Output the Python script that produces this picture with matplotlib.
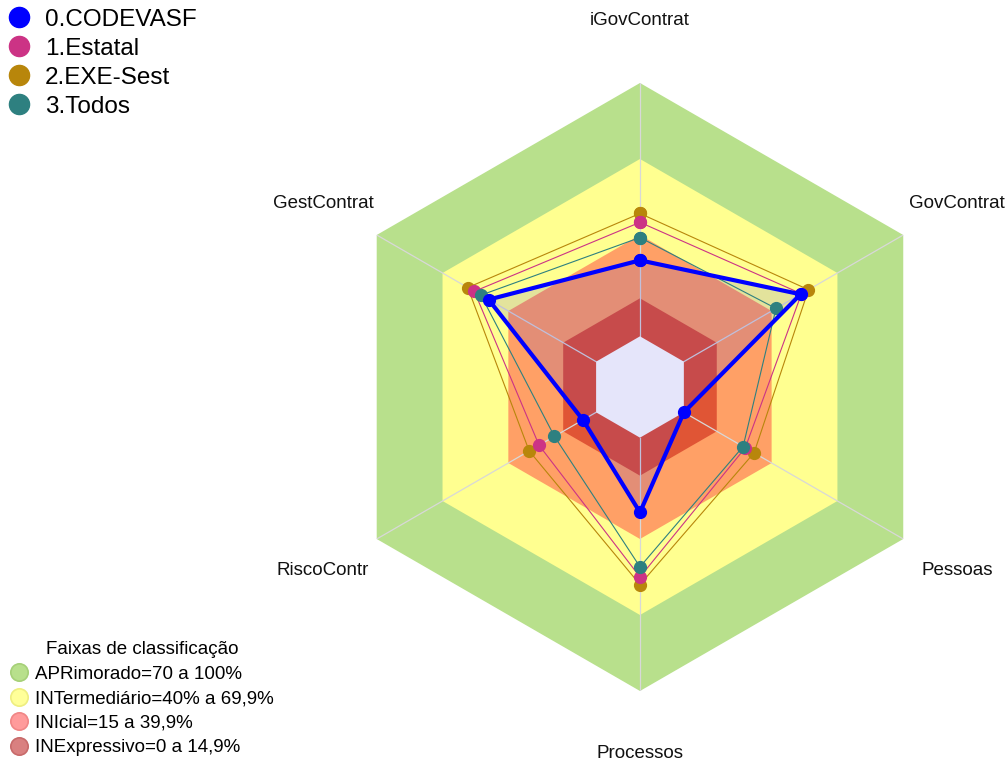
import numpy as np
import matplotlib
matplotlib.use("Agg")
import matplotlib.pyplot as plt
from matplotlib.lines import Line2D

plt.rcParams["font.family"] = ["Liberation Sans", "DejaVu Sans"]

# eixos do radar (sentido horario a partir do topo)
categorias = ["iGovContrat", "GovContrat", "Pessoas", "Processos", "RiscoContr", "GestContrat"]

codevasf = [30, 53.2, 0, 29.5, 6, 49]
estatal = [45, 53.6, 28, 55, 26, 55.5]
exe_sest = [48.5, 56.8, 32, 58, 30.5, 58.5]
todos = [39, 42, 27, 51, 19, 52.5]

series_nomes = ["0.CODEVASF", "1.Estatal", "2.EXE-Sest", "3.Todos"]

# faixas de classificacao (limite superior de cada faixa)
faixas_lim = [100, 70, 40, 15]
faixas_nomes = ["APRimorado=70 a 100%", "INTermediário=40% a 69,9%",
                "INIcial=15 a 39,9%", "INExpressivo=0 a 14,9%"]

cores_series = ["#0000FF", "#CC3385", "#B8860B", "#2E8080"]
cores_faixas = ["#B8E08C", "#FFFF90", "#FFA066", "#E05535"]
cores_leg_faixas = ["#B8E08C", "#FFFF99", "#FF9B9B", "#D98080"]
bordas_leg_faixas = ["#A6D078", "#EEEE80", "#F08686", "#C86A6A"]

n = len(categorias)
theta = np.deg2rad(np.arange(n) * 360 / n)
theta_c = np.append(theta, theta[0])


def fechar(v):
    return list(v) + [v[0]]


fig = plt.figure(figsize=(10.08, 7.6), dpi=100)
ax = fig.add_axes([0.3333, 0.0908, 0.6032, 0.8], projection="polar")
ax.set_theta_zero_location("N")
ax.set_theta_direction(-1)
ax.set_ylim(-20, 100)
ax.set_facecolor("none")
ax.spines["polar"].set_visible(False)
ax.grid(False)
ax.set_xticks([])
ax.set_yticks([])

# faixas de fundo
for lim, cor in zip(faixas_lim, cores_faixas):
    ax.fill(theta_c, [lim] * (n + 1), color=cor, lw=0, zorder=1)

# raios
for t in theta:
    ax.plot([t, t], [0, 100], color="#D8D8D8", lw=0.9, zorder=2)

# series
ax.fill(theta_c, fechar(codevasf), color="#0000FF", alpha=0.11, lw=0, zorder=3)
# miolo (abaixo de zero)
ax.fill(theta_c, [0] * (n + 1), color="#E5E5FA", lw=0, zorder=3.5)

ordem = [(exe_sest, 2), (estatal, 1), (todos, 3)]
for vals, i in ordem:
    ax.plot(theta_c, fechar(vals), color=cores_series[i], lw=0.8,
            marker="o", markersize=8.5, zorder=4)
ax.plot(theta_c, fechar(codevasf), color=cores_series[0], lw=3,
        marker="o", markersize=8.5, zorder=5)

# rotulos dos eixos
for t, nome in zip(theta, categorias):
    ax.text(t, 124.5, nome, ha="center", va="center", fontsize=13.5, color="#111111")

# legenda das series
h_series = [Line2D([], [], ls="none", marker="o", markersize=14.5, color=c)
            for c in cores_series]
leg1 = fig.legend(h_series, series_nomes, loc="upper left",
                  bbox_to_anchor=(0.004, 0.992), frameon=False, fontsize=17.5,
                  handlelength=1.0, handletextpad=0.58, labelspacing=0.29,
                  borderpad=0.1, borderaxespad=0)

# legenda das faixas
h_faixas = [Line2D([], [], ls="none", marker="o", markersize=12.5, markerfacecolor=c,
                   markeredgecolor=b, markeredgewidth=1.2)
            for c, b in zip(cores_leg_faixas, bordas_leg_faixas)]
leg2 = fig.legend(h_faixas, faixas_nomes, loc="lower left",
                  bbox_to_anchor=(0.007, 0.0), frameon=False, fontsize=13.5,
                  title="Faixas de classificação", title_fontsize=13.5,
                  handlelength=0.85, handletextpad=0.45, labelspacing=0.39,
                  borderpad=0.2, borderaxespad=0)

fig.savefig("out.png", dpi=100)
plt.close(fig)
